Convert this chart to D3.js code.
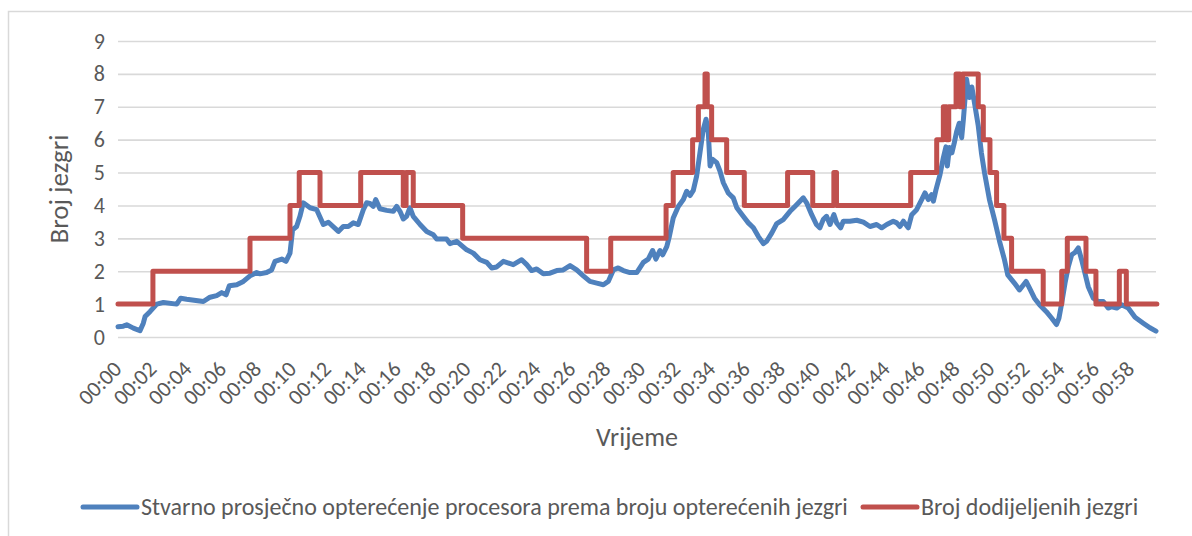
<!DOCTYPE html>
<html>
<head>
<meta charset="utf-8">
<script src="https://cdn.jsdelivr.net/npm/d3@7"></script>
<style>
  html, body { margin: 0; padding: 0; background: #ffffff; }
  svg { display: block; font-family: Calibri, Carlito, Lato, sans-serif; }
</style>
</head>
<body>
<svg id="chart" width="1192" height="536"></svg>
<script>
// Measured average CPU load, expressed as number of busy cores (time in minutes)
const loadMinutes = [
  0.0, 0.3, 0.5, 0.88, 1.26, 1.45, 1.55, 1.83, 2.22, 2.6, 3.36, 3.59, 3.93, 4.89, 5.27, 5.65,
  5.94, 6.19, 6.38, 6.8, 7.18, 7.56, 7.94, 8.13, 8.51, 8.8, 8.99, 9.38, 9.62, 9.85, 10.0, 10.23,
  10.42, 10.61, 11.0, 11.38, 11.76, 12.05, 12.62, 12.9, 13.19, 13.48, 13.76, 14.05, 14.24, 14.43,
  14.62, 14.76, 15.0, 15.39, 15.77, 15.96, 16.15, 16.34, 16.53, 16.72, 16.91, 17.3, 17.68, 18.06,
  18.25, 18.82, 19.01, 19.4, 19.97, 20.35, 20.73, 21.12, 21.4, 21.69, 22.07, 22.64, 23.12, 23.41,
  23.69, 23.98, 24.36, 24.74, 25.13, 25.5, 25.89, 26.27, 26.65, 27.03, 27.42, 27.8, 28.08, 28.37,
  28.65, 28.94, 29.32, 29.71, 30.09, 30.37, 30.62, 30.81, 31.04, 31.2, 31.43, 31.58, 31.8, 32.09,
  32.38, 32.57, 32.76, 32.95, 33.14, 33.33, 33.52, 33.68, 33.81, 33.91, 34.06, 34.29, 34.48, 34.67,
  34.95, 35.24, 35.44, 35.81, 36.1, 36.39, 36.67, 36.96, 37.15, 37.44, 37.73, 38.1, 38.49, 38.77,
  39.06, 39.25, 39.44, 39.73, 40.0, 40.2, 40.39, 40.58, 40.78, 41.0, 41.16, 41.39, 41.54, 41.92,
  42.31, 42.69, 43.07, 43.45, 43.74, 44.03, 44.4, 44.6, 44.79, 44.98, 45.26, 45.46, 45.74, 46.03,
  46.22, 46.41, 46.6, 46.7, 46.85, 47.08, 47.27, 47.42, 47.5, 47.62, 47.76, 47.9, 48.03, 48.18,
  48.32, 48.42, 48.6, 48.76, 48.9, 49.03, 49.27, 49.45, 49.63, 49.91, 50.2, 50.49, 50.77, 50.96,
  51.34, 51.63, 52.01, 52.2, 52.49, 52.78, 53.17, 53.48, 53.75, 53.89, 54.05, 54.24, 54.43, 54.62,
  54.81, 55.0, 55.19, 55.38, 55.57, 55.86, 56.14, 56.43, 56.71, 56.91, 57.2, 57.48, 57.86, 58.25,
  58.72, 59.1, 59.45
];
const loadCores = [
  0.31, 0.33, 0.37, 0.27, 0.19, 0.42, 0.62, 0.77, 1.0, 1.05, 1.0, 1.18, 1.15, 1.08, 1.21, 1.26,
  1.35, 1.28, 1.56, 1.59, 1.69, 1.86, 1.96, 1.92, 1.96, 2.04, 2.3, 2.37, 2.3, 2.55, 3.26, 3.36,
  3.67, 4.08, 3.93, 3.87, 3.42, 3.49, 3.21, 3.36, 3.36, 3.47, 3.42, 3.87, 4.08, 4.06,
  3.97, 4.18, 3.9, 3.85, 3.82, 3.97, 3.82, 3.59, 3.67, 3.93, 3.67, 3.42, 3.21, 3.11,
  2.98, 2.98, 2.84, 2.91, 2.65, 2.55, 2.35, 2.27, 2.1, 2.13, 2.3, 2.2, 2.35, 2.2,
  2.02, 2.07, 1.92, 1.94, 2.02, 2.04, 2.17, 2.04, 1.86, 1.69, 1.64, 1.59, 1.69, 2.04,
  2.1, 2.02, 1.96, 1.96, 2.27, 2.37, 2.63, 2.37, 2.63, 2.5, 2.75, 3.06, 3.62, 3.97,
  4.18, 4.43, 4.3, 4.46, 4.89, 5.6, 6.31, 6.62, 6.21, 5.2, 5.4, 5.3, 5.04, 4.69,
  4.38, 4.23, 3.93, 3.67, 3.47, 3.32, 3.06, 2.84, 2.91, 3.16, 3.45, 3.57, 3.82, 3.97,
  4.13, 4.23, 4.08, 3.72, 3.42, 3.32, 3.57, 3.67, 3.42, 3.72, 3.47, 3.32, 3.52, 3.52,
  3.55, 3.49, 3.36, 3.42, 3.32, 3.42, 3.52, 3.47, 3.36, 3.52, 3.32, 3.72, 3.87, 4.18,
  4.38, 4.18, 4.33, 4.13, 4.48, 4.94, 5.45, 5.78, 5.2, 5.76, 5.6, 5.91, 6.24, 6.5,
  6.06, 6.62, 7.84, 7.28, 7.6, 7.2, 6.42, 5.6, 4.99, 4.18, 3.57, 2.91, 2.35, 1.89,
  1.64, 1.43, 1.69, 1.49, 1.18, 0.98, 0.77, 0.57, 0.38, 0.57, 1.03, 1.64, 2.14, 2.5,
  2.57, 2.71, 2.35, 1.94, 1.53, 1.18, 1.08, 1.08, 0.88, 0.92, 0.88, 0.98, 0.88, 0.6,
  0.42, 0.28, 0.18
];

// Allocated cores: each entry holds from its minute until the next one
const allocMinutes = [
  0, 2.0, 7.56, 9.85, 10.38, 11.57, 13.9, 16.34, 16.5, 16.91, 19.74, 26.84, 28.22, 31.39,
  31.8, 32.91, 33.24, 33.62, 33.75, 34.0, 34.86, 35.87, 38.35, 39.79, 41.0, 41.15, 45.4,
  46.89, 47.27, 47.46, 47.58, 48.0, 48.22, 48.38, 49.27, 49.56, 49.94, 50.32, 50.74, 51.18,
  52.99, 54.05, 54.37, 55.44, 56.01, 57.35, 57.75, 59.5
];
const allocCores = [
  1, 2, 3, 4, 5, 4, 5, 4, 5, 4, 3, 2, 3, 4,
  5, 6, 7, 8, 7, 6, 5, 4, 5, 4, 5, 4, 5,
  6, 7, 6, 7, 8, 7, 8, 7, 6, 5, 4, 3, 2,
  1, 2, 3, 2, 1, 2, 1, 1
];

const yTicks = [0, 1, 2, 3, 4, 5, 6, 7, 8, 9];
const xTickMinutes = [0, 2, 4, 6, 8, 10, 12, 14, 16, 18, 20, 22, 24, 26, 28, 30, 32, 34, 36, 38,
  40, 42, 44, 46, 48, 50, 52, 54, 56, 58];
const xTickLabels = ["00:00", "00:02", "00:04", "00:06", "00:08", "00:10", "00:12", "00:14",
  "00:16", "00:18", "00:20", "00:22", "00:24", "00:26", "00:28", "00:30", "00:32", "00:34",
  "00:36", "00:38", "00:40", "00:42", "00:44", "00:46", "00:48", "00:50", "00:52", "00:54",
  "00:56", "00:58"];

const seriesNames = [
  "Stvarno prosječno opterećenje procesora prema broju opterećenih jezgri",
  "Broj dodijeljenih jezgri"
];
const seriesColors = ["#4F81BD", "#C0504D"];
const yTitle = "Broj jezgri";
const xTitle = "Vrijeme";

const textColor = "#595959";
const gridColor = "#d9d9d9";
const fontStack = "Calibri, Carlito, Lato, sans-serif";

const plot = { left: 118, right: 1156, top: 41, bottom: 337 };

const svg = d3.select("#chart");

// chart frame (runs off the right and bottom edges)
svg.append("rect")
  .attr("x", 8.5).attr("y", 11.5)
  .attr("width", 1250).attr("height", 600)
  .attr("fill", "#ffffff")
  .attr("stroke", gridColor).attr("stroke-width", 1.5);

const x = d3.scaleLinear().domain([0, 59.45]).range([plot.left, plot.right]);
const y = d3.scaleLinear().domain([0, 9]).range([plot.bottom, plot.top]);

// horizontal gridlines + value labels
const yAxis = svg.append("g")
  .attr("transform", `translate(${plot.left},0)`)
  .call(d3.axisLeft(y).tickValues(yTicks).tickSize(-(plot.right - plot.left)).tickPadding(13));
yAxis.select(".domain").remove();
yAxis.selectAll(".tick line").attr("stroke", gridColor).attr("stroke-width", 1.6);
yAxis.selectAll(".tick text")
  .attr("fill", textColor)
  .style("font-size", "22px")
  .style("font-family", fontStack);

// time axis with rotated labels
const xAxis = svg.append("g")
  .attr("transform", `translate(0,${plot.bottom})`)
  .call(d3.axisBottom(x).tickValues(xTickMinutes)
    .tickFormat((d, i) => xTickLabels[i]).tickSize(0));
xAxis.select(".domain").remove();
xAxis.selectAll(".tick text")
  .attr("x", 0).attr("y", 0).attr("dy", "0.35em")
  .attr("text-anchor", "end")
  .attr("transform", "translate(-1,28) rotate(-45)")
  .attr("fill", textColor)
  .style("font-size", "22px")
  .style("font-family", fontStack);

// series
const loadData = loadMinutes.map((m, i) => [m, loadCores[i]]);
const allocData = allocMinutes.map((m, i) => [m, allocCores[i]]);

svg.append("path")
  .datum(loadData)
  .attr("fill", "none")
  .attr("stroke", seriesColors[0])
  .attr("stroke-width", 5)
  .attr("stroke-linejoin", "round")
  .attr("stroke-linecap", "round")
  .attr("d", d3.line().x(d => x(d[0])).y(d => y(d[1])));

svg.append("path")
  .datum(allocData)
  .attr("fill", "none")
  .attr("stroke", seriesColors[1])
  .attr("stroke-width", 5)
  .attr("stroke-linejoin", "round")
  .attr("stroke-linecap", "round")
  .attr("d", d3.line().curve(d3.curveStepAfter).x(d => x(d[0])).y(d => y(d[1])));

// axis titles
svg.append("text")
  .attr("transform", `translate(59,${(plot.top + plot.bottom) / 2}) rotate(-90)`)
  .attr("text-anchor", "middle").attr("dy", "0.35em")
  .attr("fill", textColor)
  .style("font-size", "27px")
  .text(yTitle);

svg.append("text")
  .attr("x", (plot.left + plot.right) / 2).attr("y", 437)
  .attr("text-anchor", "middle").attr("dy", "0.35em")
  .attr("fill", textColor)
  .style("font-size", "26px")
  .text(xTitle);

// legend
const legendItems = [
  { x: 83, name: seriesNames[0], color: seriesColors[0] },
  { x: 863, name: seriesNames[1], color: seriesColors[1] }
];
const legend = svg.append("g").attr("transform", "translate(0,507)");
const item = legend.selectAll("g").data(legendItems).join("g")
  .attr("transform", d => `translate(${d.x},0)`);
item.append("line")
  .attr("x1", 0).attr("x2", 54).attr("y1", 0).attr("y2", 0)
  .attr("stroke", d => d.color).attr("stroke-width", 5)
  .attr("stroke-linecap", "round");
item.append("text")
  .attr("x", 58).attr("dy", "0.35em")
  .attr("fill", textColor)
  .style("font-size", "24px")
  .text(d => d.name);
</script>
</body>
</html>
